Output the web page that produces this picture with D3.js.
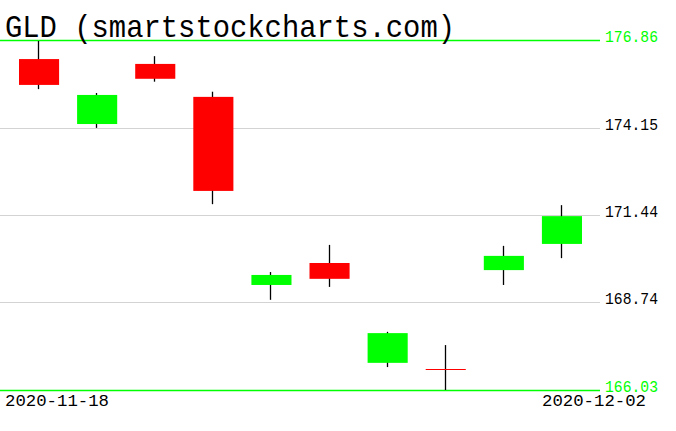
<!DOCTYPE html>
<html>
<head>
<meta charset="utf-8">
<script src="https://cdn.jsdelivr.net/npm/d3@7"></script>
<style>
html,body{margin:0;padding:0;background:#fff;}
svg{display:block;}
text{font-family:"Liberation Mono","DejaVu Sans Mono",monospace;}
</style>
</head>
<body>
<svg id="chart" width="676" height="431"></svg>
<script>
const dates = ["2020-11-18","2020-11-19","2020-11-20","2020-11-23","2020-11-24","2020-11-25","2020-11-27","2020-11-30","2020-12-01","2020-12-02"];
const open  = [176.27, 174.26, 176.12, 175.10, 169.28, 169.96, 166.87, 166.67, 169.74, 170.55];
const high  = [176.83, 175.22, 176.36, 175.26, 169.68, 170.52, 167.83, 167.42, 170.49, 171.75];
const low   = [175.34, 174.14, 175.57, 171.78, 168.82, 169.22, 166.74, 166.03, 169.28, 170.11];
const close = [175.47, 175.16, 175.66, 172.19, 169.59, 169.47, 167.79, 166.67, 170.18, 171.41];
const tickValues = [176.86, 174.15, 171.44, 168.74, 166.03];
const tickLabels = ["176.86", "174.15", "171.44", "168.74", "166.03"];
const dateLabels = ["2020-11-18", "2020-12-02"];
const title = "GLD (smartstockcharts.com)";

const svg = d3.select("#chart");
const plotRight = 600;

const x = d3.scaleBand().domain(dates).range([10, 591]).paddingInner(0.31).paddingOuter(0.155);
const y = d3.scaleLinear().domain([166.03, 176.86]).range([390, 40]);

const data = dates.map((d, i) => ({date: d, o: open[i], h: high[i], l: low[i], c: close[i]}));

// grid lines
const minT = d3.min(tickValues), maxT = d3.max(tickValues);
svg.append("g").selectAll("line").data(tickValues).join("line")
  .attr("x1", 0).attr("x2", plotRight)
  .attr("y1", d => Math.round(y(d)) + 0.5).attr("y2", d => Math.round(y(d)) + 0.5)
  .attr("stroke", d => (d === minT || d === maxT) ? "#00ff00" : "#d3d3d3")
  .attr("stroke-width", d => (d === minT || d === maxT) ? 1.4 : 1);

// tick labels
svg.append("g").selectAll("text").data(tickValues).join("text")
  .attr("x", 605).attr("y", d => Math.round(y(d)) + 1.5)
  .attr("font-size", 16.5)
  .attr("textLength", 53).attr("lengthAdjust", "spacingAndGlyphs")
  .attr("fill", d => (d === minT || d === maxT) ? "#00ff00" : "#000")
  .text((d, i) => tickLabels[i]);

// candles
const cx = d => Math.round(x(d.date) + x.bandwidth() / 2) - 0.5;
const g = svg.append("g");
g.selectAll("line.wick").data(data).join("line").attr("class", "wick")
  .attr("x1", cx).attr("x2", cx)
  .attr("y1", d => y(d.h)).attr("y2", d => y(d.l))
  .attr("stroke", "#000").attr("stroke-width", 1.3);

g.selectAll("rect.body").data(data.filter(d => d.o !== d.c)).join("rect").attr("class", "body")
  .attr("x", d => x(d.date)).attr("width", x.bandwidth())
  .attr("y", d => y(Math.max(d.o, d.c)))
  .attr("height", d => Math.abs(y(d.o) - y(d.c)))
  .attr("fill", d => d.c > d.o ? "#00ff00" : "#ff0000");

g.selectAll("line.doji").data(data.filter(d => d.o === d.c)).join("line").attr("class", "doji")
  .attr("x1", d => x(d.date)).attr("x2", d => x(d.date) + x.bandwidth())
  .attr("y1", d => Math.round(y(d.o)) + 0.5).attr("y2", d => Math.round(y(d.o)) + 0.5)
  .attr("stroke", "#ff0000").attr("stroke-width", 1);

// date labels
svg.append("text").attr("x", 5).attr("y", 406).attr("font-size", 16.5)
  .attr("textLength", 104).attr("lengthAdjust", "spacingAndGlyphs")
  .attr("fill", "#000").text(dateLabels[0]);
svg.append("text").attr("x", 646).attr("y", 406).attr("font-size", 16.5)
  .attr("text-anchor", "end")
  .attr("textLength", 104).attr("lengthAdjust", "spacingAndGlyphs")
  .attr("fill", "#000").text(dateLabels[1]);

// title
svg.append("text").attr("x", 5).attr("y", 37).attr("font-size", 32)
  .attr("textLength", 450).attr("lengthAdjust", "spacingAndGlyphs")
  .attr("fill", "#000").text(title);
</script>
</body>
</html>
